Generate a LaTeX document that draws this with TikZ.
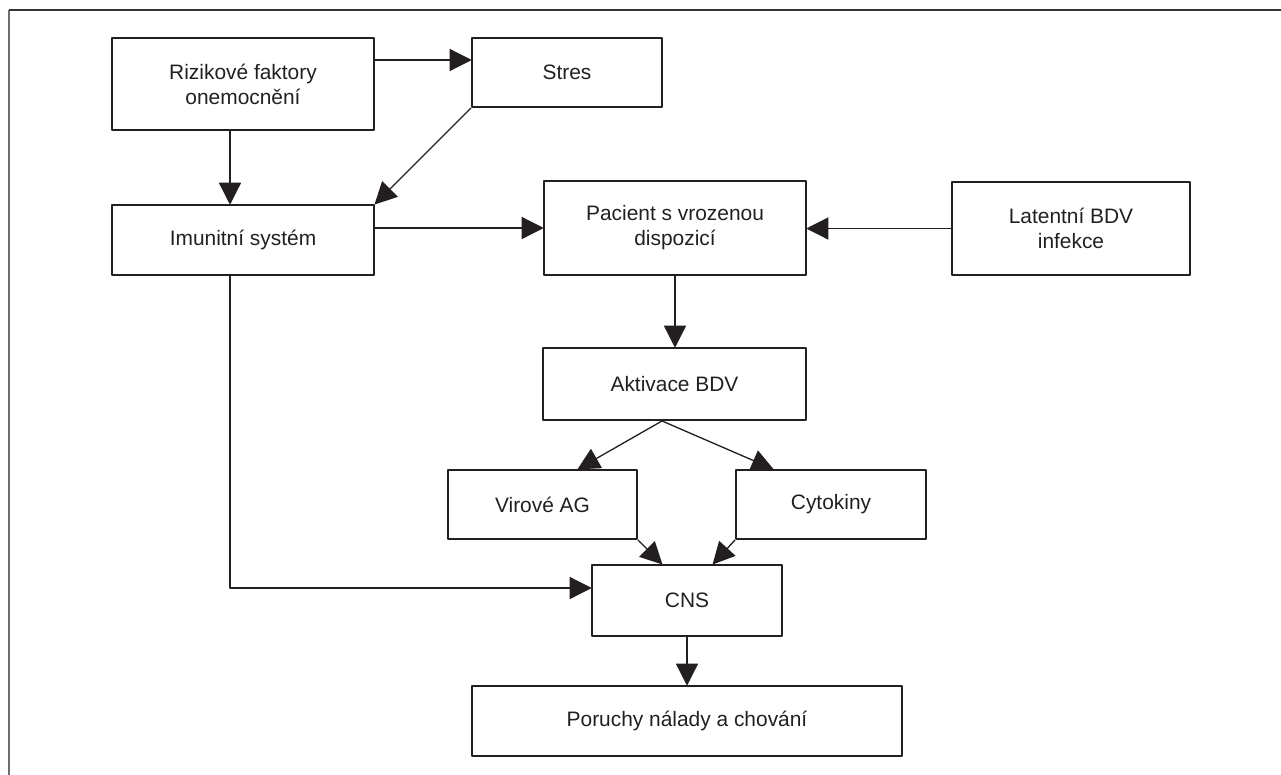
\documentclass[tikz,border=0pt]{standalone}
\usepackage{fontspec}
\setmainfont{Liberation Sans}
\usetikzlibrary{arrows.meta}
\definecolor{ink}{HTML}{231F20}
\definecolor{framegray}{HTML}{6E6E6E}
\begin{document}
\begin{tikzpicture}[line join = round, >={Triangle[length=0.44cm,width=0.44cm]},
	font=\fontsize{11.9}{14.2}\selectfont, color=ink,
	box/.style={draw, line width=1.1pt, align=center, inner sep=0pt},
	arr/.style={->, line width=0.75pt, shorten >=-0.4pt}]
	\useasboundingbox (0,0) rectangle (25.62,-15.5);
	% outer frame, only top and left show
	\draw[framegray, line width=1.2pt] (0.18,-15.5) -- (0.18,-0.2);
	\draw[black!80, line width=1pt] (0.18,-0.2) -- (25.62,-0.2);
	% boxes
	\node[box, minimum width=5.24cm, minimum height=1.84cm] (risk) at (4.86,-1.68) {Rizikové faktory\\onemocnění};
	\node[box, minimum width=3.80cm, minimum height=1.38cm] (stres) at (11.34,-1.45) {Stres};
	\node[box, minimum width=5.24cm, minimum height=1.40cm] (imun) at (4.86,-4.80) {Imunitní systém};
	\node[box, minimum width=5.24cm, minimum height=1.88cm] (pac) at (13.50,-4.56) {Pacient s vrozenou\\dispozicí};
	\node[box, minimum width=4.76cm, minimum height=1.86cm] (lat) at (21.42,-4.57) {Latentní BDV\\infekce};
	\node[box, minimum width=5.26cm, minimum height=1.44cm] (akt) at (13.49,-7.68) {Aktivace BDV};
	\node[box, minimum width=3.78cm, minimum height=1.38cm] (vir) at (10.85,-10.09) {Virové AG};
	\node[box, minimum width=3.80cm, minimum height=1.38cm] (cyt) at (16.62,-10.09) {Cytokiny};
	\node[box, minimum width=3.80cm, minimum height=1.42cm] (cns) at (13.74,-12.01) {CNS};
	\node[box, minimum width=8.60cm, minimum height=1.40cm] (por) at (13.74,-14.42) {Poruchy nálady a chování};
	% connectors
	\coordinate (h1) at (0,-1.2);
	\draw[arr] (risk.east |- h1) -- (stres.west |- h1);
	\draw[arr] (stres.south west) -- (imun.north east);
	\draw[arr] ([xshift=-0.26cm]risk.south) -- ([xshift=-0.26cm]imun.north);
	\draw[arr] (imun.east |- pac.west) -- (pac.west);
	\draw[arr] (lat.west) -- (pac.east |- lat.west);
	\draw[arr] (pac.south) -- (akt.north -| pac.south);
	\draw[arr] ([xshift=-0.25cm]akt.south) -- ([xshift=0.71cm]vir.north);
	\draw[arr] ([xshift=-0.25cm]akt.south) -- ([xshift=-1.16cm]cyt.north);
	\draw[arr] (vir.south east) -- ([xshift=-0.5cm]cns.north);
	\draw[arr] (cyt.south west) -- ([xshift=0.52cm]cns.north);
	\draw[arr] ([xshift=-0.26cm]imun.south) |- ([yshift=0.25cm]cns.west);
	\draw[arr] (cns.south) -- (por.north);
\end{tikzpicture}
\end{document}
